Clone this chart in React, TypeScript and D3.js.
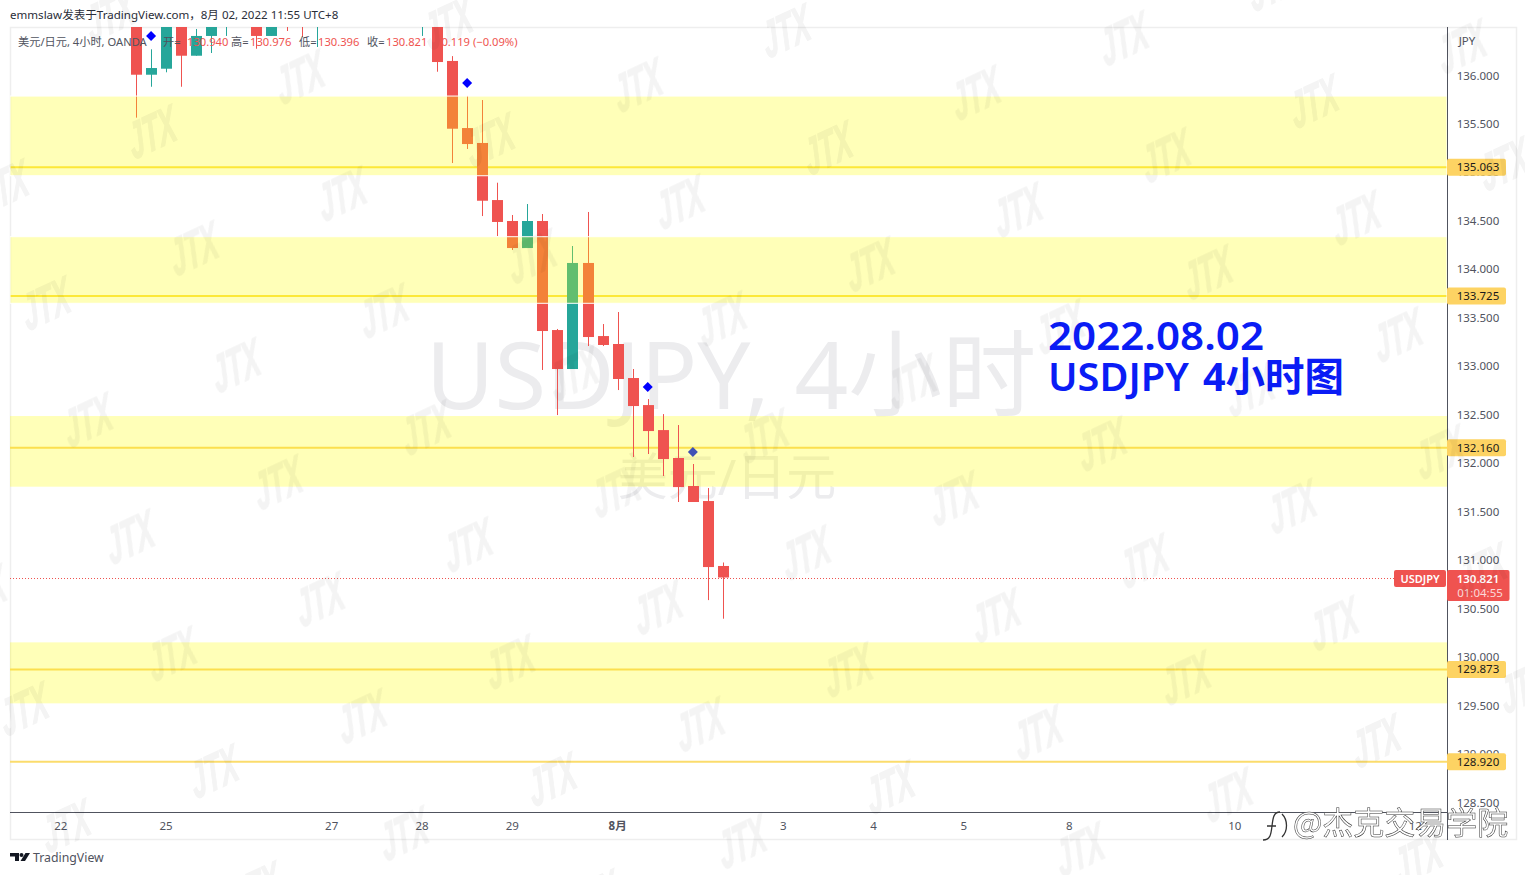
import React from "react";
import * as d3 from "d3";

// ---- data (prices) ----
const barIndex = [0,1,2,3,4,5,6,7,8,9,10,11,12,19,20,21,22,23,24,25,26,27,28,29,30,31,32,33,34,35,36,37,38,39];
const opens = [136.7,136.008,136.07,136.8,136.204,136.408,136.6,136.9,136.8,136.408,137,137,136.6,136.8,136.6,136.15,135.458,135.304,134.715,134.499,134.22,134.499,133.374,132.972,134.066,133.312,133.23,132.879,132.6,132.342,132.054,131.765,131.61,130.94];
const highs = [136.9,136.27,137,137,136.48,136.9,137,137,137,136.9,137.1,137.1,137,137,136.8,136.2,135.789,135.747,134.894,134.561,134.674,134.571,133.385,134.241,134.592,133.436,133.56,132.972,132.662,132.507,132.394,131.992,131.744,130.976];
const lows = [135.565,135.884,136.033,135.884,136.204,136.232,136.408,136.6,136.276,136.408,136.459,136.397,136.294,136.408,136.039,135.097,135.242,134.55,134.344,134.2,134.22,132.962,132.497,132.972,133.209,133.209,132.755,132.064,132.095,131.868,131.6,131.6,130.588,130.396];
const closes = [136.008,136.077,136.8,136.204,136.408,136.7,136.8,136.65,136.408,136.7,136.6,136.6,136.8,137,136.139,135.451,135.293,134.708,134.489,134.22,134.499,133.364,132.972,134.066,133.302,133.22,132.869,132.59,132.332,132.043,131.754,131.6,130.929,130.821];

// zones painted over the candles (the upper two) and under them (the lower two)
const overZoneTops = [135.788, 134.337];
const overZoneBottoms = [134.966, 133.65];
const underZoneTops = [132.487, 130.152];
const underZoneBottoms = [131.758, 129.523];
const levelLines = [135.053, 133.725, 132.16, 129.873, 128.92];
const levelLabels = ["135.063", "133.725", "132.160", "129.873", "128.920"];
const lastPrice = 130.821;

const priceTicks = [136, 135.5, 135, 134.5, 134, 133.5, 133, 132.5, 132, 131.5, 131, 130.5, 130, 129.5, 129, 128.5];
const timeTickIndex = [-5, 2, 13, 19, 25, 32, 43, 49, 55, 62, 73, 85];
const timeTickLabels = ["22", "25", "27", "28", "29", "8月", "3", "4", "5", "8", "10", "12"];

const signalIndex = [1, 22, 34, 37];
const signalPrice = [136.408, 135.923, 132.786, 132.116];
const signalColors = ["#0000ff", "#0000ff", "#0000ff", "#3f51b5"];

const legendParts = ["美元/日元, 4小时, OANDA", "开=", "130.940", "高=", "130.976", "低=", "130.396", "收=", "130.821", "−0.119 (−0.09%)"];

// ---- layout ----
const W = 1525, H = 875;
const plotL = 10, plotR = 1447, plotT = 27, plotB = 812;
const x = d3.scaleLinear().domain([0, 39]).range([136, 723]);
const y = d3.scaleLinear().domain([136, 128.5]).range([75.5, 802.5]);

const FONT = "'Noto Sans', 'Noto Sans CJK SC', sans-serif";
const UP = "#26a69a", DOWN = "#ef5350";

const wm: [number, number][] = [];
for (let i = -8; i <= 10; i++) {
  for (let j = -4; j <= 10; j++) {
    const px = 130 + i * 148 + j * 190;
    const py = 537 - i * 54 + j * 63 - (i + j) * 0.5;
    if (px > -40 && px < W + 40 && py > -20 && py < H + 30) wm.push([px, py]);
  }
}

const diamond = d3.symbol().type(d3.symbolSquare).size(50)() as string;

export default function App() {
  return (
    <svg width={W} height={H} viewBox={`0 0 ${W} ${H}`} style={{ position: "absolute", left: 0, top: 0, background: "#fff", fontFamily: FONT }}>
      <defs>
        <clipPath id="plot"><rect x={plotL} y={plotT} width={plotR - plotL} height={plotB - plotT} /></clipPath>
      </defs>

      {/* frame */}
      <rect x={10.5} y={27.5} width={1506} height={812} fill="none" stroke="#eeeeee" strokeWidth={1.5} />

      {/* header */}
      <text x={10} y={19} fontSize={11.55} fill="#2a2e39">emmslaw发表于TradingView.com，8月 02, 2022 11:55 UTC+8</text>

      {/* symbol watermark */}
      <text x={731} y={409} textAnchor="middle" fontSize={94} fill="#ececee">USDJPY, 4小时</text>
      <text x={727} y={495} textAnchor="middle" fontSize={50} fill="#ececee">美元/日元</text>

      <g clipPath="url(#plot)">
        {/* zones beneath the candles */}
        {underZoneTops.map((t, i) => (
          <rect key={i} x={plotL} y={y(t)} width={plotR - plotL} height={y(underZoneBottoms[i]) - y(t)} fill="#ffff00" fillOpacity={0.28} />
        ))}

        {/* level lines */}
        {levelLines.map((v, i) => (
          <line key={i} x1={plotL} x2={plotR} y1={y(v)} y2={y(v)} stroke={i === 4 ? "#fbdc6c" : "#fbdf4e"} strokeWidth={2} />
        ))}

        {/* last price */}
        <line x1={plotL} x2={plotR} y1={Math.round(y(lastPrice)) + 0.5} y2={Math.round(y(lastPrice)) + 0.5} stroke="#ef5350" strokeWidth={1} strokeDasharray="1 2" />

        {/* candles */}
        {barIndex.map((idx, i) => {
          const color = closes[i] >= opens[i] ? UP : DOWN;
          const cx = Math.round(x(idx)) + 0.5;
          const top = y(Math.max(opens[i], closes[i]));
          const bot = y(Math.min(opens[i], closes[i]));
          return (
            <g key={idx}>
              <line x1={cx} x2={cx} y1={y(highs[i])} y2={y(lows[i])} stroke={color} strokeWidth={1} />
              <rect x={cx - 5.5} y={top} width={11} height={Math.max(1, bot - top)} fill={color} />
            </g>
          );
        })}

        {/* zones over the candles */}
        {overZoneTops.map((t, i) => (
          <rect key={i} x={plotL} y={y(t)} width={plotR - plotL} height={y(overZoneBottoms[i]) - y(t)} fill="#ffff00" fillOpacity={0.28} stroke="#ffffff" strokeWidth={1} />
        ))}

        {/* signals */}
        {signalIndex.map((idx, i) => (
          <path key={i} d={diamond} transform={`translate(${x(idx)},${y(signalPrice[i])}) rotate(45)`} fill={signalColors[i]} />
        ))}
      </g>

      {/* legend over the candles: its red values vanish on red bodies */}
      <g fontSize={11.2} fill="#50535e">
        <text x={18} y={46}>{legendParts[0]}</text>
        <text x={163} y={46}>{legendParts[1]}</text>
        <text x={187} y={46} fill="#ef5350">{legendParts[2]}</text>
        <text x={231} y={46}>{legendParts[3]}</text>
        <text x={250} y={46} fill="#ef5350">{legendParts[4]}</text>
        <text x={299} y={46}>{legendParts[5]}</text>
        <text x={318} y={46} fill="#ef5350">{legendParts[6]}</text>
        <text x={367} y={46}>{legendParts[7]}</text>
        <text x={386} y={46} fill="#ef5350">{legendParts[8]}</text>
        <text x={435} y={46} fill="#ef5350">{legendParts[9]}</text>
      </g>

      {/* axes */}
      <line x1={plotR + 0.5} x2={plotR + 0.5} y1={plotT} y2={840} stroke="#50535e" strokeWidth={1} />
      <line x1={plotL} x2={plotR} y1={plotB + 0.5} y2={plotB + 0.5} stroke="#50535e" strokeWidth={1} />

      <g fontSize={11.5} fill="#50535e" textAnchor="middle">
        <text x={1467} y={45}>JPY</text>
        {priceTicks.map((p) => (
          <text key={p} x={1478} y={y(p) + 4}>{p.toFixed(3)}</text>
        ))}
        {timeTickIndex.map((t, i) => (
          <text key={t} x={x(t)} y={830} fontWeight={timeTickLabels[i].includes("月") ? 700 : 400}>{timeTickLabels[i]}</text>
        ))}
      </g>

      {/* level badges */}
      {levelLines.map((v, i) => (
        <g key={i}>
          <rect x={1447} y={y(v) - 8.5} width={59} height={17} rx={2} fill="#fdd363" />
          <text x={1478} y={y(v) + 4} textAnchor="middle" fontSize={11.5} fill="#1a1a1a">{levelLabels[i]}</text>
        </g>
      ))}

      {/* last price badges */}
      <rect x={1394} y={570} width={52} height={17} rx={2} fill="#ef5350" />
      <text x={1420} y={582.5} textAnchor="middle" fontSize={11} fontWeight={600} fill="#fff">USDJPY</text>
      <rect x={1447} y={570} width={62.5} height={31} rx={2} fill="#ef5350" />
      <text x={1478} y={583} textAnchor="middle" fontSize={11.5} fontWeight={600} fill="#fff">{lastPrice.toFixed(3)}</text>
      <text x={1480} y={597} textAnchor="middle" fontSize={11.5} fill="#fbd9d8">01:04:55</text>

      {/* title */}
      <g fill="#0a1cf5" fontWeight={600} fontSize={40} fontFamily="'Noto Sans', 'Noto Sans CJK SC', sans-serif">
        <text x={1048} y={350} textLength={216} lengthAdjust="spacingAndGlyphs">2022.08.02</text>
        <text x={1048} y={391} textLength={141} lengthAdjust="spacingAndGlyphs">USDJPY</text>
        <text x={1203} y={391} textLength={141} lengthAdjust="spacingAndGlyphs" fontWeight={700}>4小时图</text>
      </g>

      {/* TradingView mark */}
      <g fill="#131722">
        <path d="M10 853h9v8h-4v-4.5h-5zM30 853l-5 8h-4.5l5-8z" />
        <circle cx={21.5} cy={855} r={2} />
      </g>
      <text x={33} y={862} fontSize={12.3} fill="#50535e">TradingView</text>

      {/* JTX watermarks */}
      <g opacity={0.045} fontFamily="'Liberation Sans', sans-serif" fontWeight={700} fontStyle="italic" fontSize={50} fill="#000" stroke="#000" strokeWidth={1.5} textAnchor="middle">
        {wm.map(([px, py], i) => (
          <text key={i} transform={`translate(${px},${py}) rotate(-25) skewX(-12)`} y={18} textLength={50} lengthAdjust="spacingAndGlyphs">JTX</text>
        ))}
      </g>

      {/* Weibo stamp */}
      <g fill="#fff" stroke="#333" strokeWidth={0.5} fontSize={31} fontFamily="'Noto Sans CJK SC', sans-serif">
        <text x={1293} y={834}>@杰克交易学院</text>
      </g>
      <path d="M1263 840c7 0 8-5 9-14s2-14 8-14M1267 826h9M1282 814c6 6 6 17 0 23" fill="none" stroke="#333" strokeWidth={1.3} />
    </svg>
  );
}
